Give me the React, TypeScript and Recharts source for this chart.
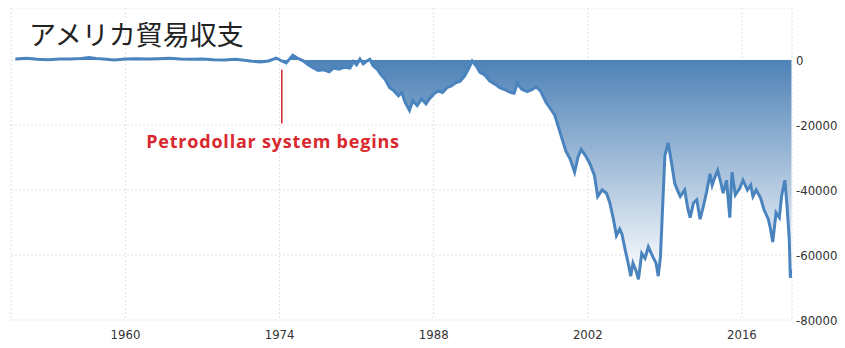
import {
  AreaChart,
  Area,
  XAxis,
  YAxis,
  CartesianGrid,
  ReferenceLine,
} from "recharts";

// US trade balance (USD million)
const years = [
  1950, 1951, 1952, 1953, 1954, 1955, 1956, 1956.7, 1957.3, 1958, 1959, 1960,
  1961, 1962, 1963, 1964, 1965, 1966, 1967, 1968, 1969, 1970, 1970.8, 1971.5,
  1972.3, 1973, 1973.7, 1974.2, 1974.6, 1975.2, 1975.6, 1976.1, 1976.6, 1977,
  1977.5, 1978, 1978.5, 1978.9, 1979.4, 1979.9, 1980.4, 1980.7, 1981, 1981.3,
  1981.6, 1981.9, 1982.2, 1982.5, 1982.9, 1983.2, 1983.6, 1984, 1984.4, 1984.8,
  1985.1, 1985.4, 1985.8, 1986.1, 1986.5, 1986.9, 1987.3, 1987.6, 1988, 1988.4,
  1988.8, 1989.2, 1989.6, 1990, 1990.4, 1990.8, 1991.2, 1991.5, 1991.9, 1992.2,
  1992.6, 1993.1, 1993.6, 1994, 1994.5, 1995, 1995.3, 1995.6, 1996, 1996.5,
  1997, 1997.3, 1997.7, 1998.2, 1998.6, 1999, 1999.5, 2000, 2000.4, 2000.8,
  2001.1, 2001.4, 2001.8, 2002.2, 2002.6, 2002.9, 2003.3, 2003.7, 2004, 2004.3,
  2004.6, 2004.9, 2005.1, 2005.4, 2005.7, 2005.9, 2006.1, 2006.4, 2006.6,
  2006.9, 2007.2, 2007.5, 2007.9, 2008.2, 2008.4, 2008.6, 2008.8, 2009, 2009.3,
  2009.6, 2009.9, 2010.2, 2010.4, 2010.8, 2011.1, 2011.3, 2011.6, 2011.9,
  2012.2, 2012.5, 2012.8, 2013.1, 2013.3, 2013.5, 2013.8, 2014.1, 2014.3,
  2014.6, 2014.9, 2015.1, 2015.4, 2015.8, 2016.1, 2016.5, 2016.8, 2017, 2017.3,
  2017.7, 2018, 2018.4, 2018.6, 2018.8, 2019.1, 2019.4, 2019.6, 2019.9, 2020.1,
  2020.3, 2020.4, 2020.5,
];

const balance = [
  300, 500, 200, 100, 300, 300, 500, 800, 500, 300, 0, 300,
  400, 300, 400, 500, 300, 200, 300, 100, 0, 200, -100, -400,
  -600, -300, 600, -300, -900, 1500, 600, -200, -1500, -2300,
  -3200, -3000, -3600, -2500, -2800, -2200, -2500, -500, -1500, 300,
  -1200, -400, 200, -1800, -3000, -4500, -6000, -8500, -9500, -11000,
  -10000, -13000, -15500, -12500, -14000, -12000, -13500, -12000, -10500, -9500,
  -10000, -8500, -8000, -7000, -6500, -5000, -2500, -300, -2000, -3800,
  -4500, -6500, -7500, -8500, -9200, -10000, -10200, -7200, -9000, -9700,
  -9000, -8200, -9500, -13000, -15000, -17000, -22500, -28000, -30500, -34500,
  -30000, -27500, -29500, -32000, -35500, -42000, -40000, -41000, -44000, -48500,
  -54000, -52000, -53500, -58500, -63000, -66500, -62500, -65000, -67500,
  -59500, -61000, -57500, -60500, -62500, -66500, -60500, -45000, -29500, -25500,
  -31500, -38000, -40500, -42000, -40000, -46000, -48500, -44000, -43000,
  -49000, -45000, -40500, -35000, -38500, -36500, -34000, -38000, -41000,
  -37000, -48500, -34500, -41500, -39500, -37000, -40000, -38500, -42000, -40000,
  -42500, -46000, -49000, -52000, -56000, -47000, -48500, -42000, -37000, -45000,
  -55000, -67000, -64500,
];

const xTicks = [1960, 1974, 1988, 2002, 2016];
const yTicks = [0, -20000, -40000, -60000, -80000];

const data = years.map((year, i) => ({ year, value: balance[i] }));

const tickStyle = {
  fontFamily: "'DejaVu Sans Condensed', sans-serif",
  fontStretch: "condensed",
  fontSize: 13,
  fill: "#333",
};

export default function App() {
  return (
    <div style={{ position: "relative", width: 829, height: 340 }}>
      <AreaChart
        width={829}
        height={340}
        data={data}
        margin={{ top: 0, right: 0, left: 3, bottom: 0 }}
      >
        <defs>
          <linearGradient id="tbFill" x1="0" y1="0" x2="0" y2="1">
            <stop offset="0%" stopColor="#4a7fb5" />
            <stop offset="100%" stopColor="#ffffff" />
          </linearGradient>
        </defs>
        <CartesianGrid stroke="#e2e2e2" strokeDasharray="2 2" />
        <XAxis
          dataKey="year"
          type="number"
          domain={[1949.6, 2020.55]}
          ticks={xTicks}
          allowDataOverflow
          axisLine={false}
          tickLine={false}
          tickMargin={4}
          height={28}
          tick={tickStyle}
        />
        <YAxis
          orientation="right"
          domain={[-80000, 16000]}
          ticks={yTicks}
          allowDataOverflow
          axisLine={false}
          tickLine={false}
          tickSize={2}
          tickMargin={2}
          width={45}
          tick={tickStyle}
        />
        <Area
          type="linear"
          dataKey="value"
          baseValue={0}
          stroke="#4a84bf"
          strokeWidth={3}
          fill="url(#tbFill)"
          fillOpacity={1}
          isAnimationActive={false}
        />
        <ReferenceLine
          segment={[
            { x: 1974.2, y: -3000 },
            { x: 1974.2, y: -19500 },
          ]}
          stroke="#d8232a"
          strokeWidth={1.5}
        />
      </AreaChart>
      <div
        style={{
          position: "absolute",
          left: 21,
          top: 12,
          fontFamily: "'Noto Sans CJK JP', sans-serif",
          fontSize: 27,
          lineHeight: "27px",
          color: "#222",
          whiteSpace: "nowrap",
        }}
      >
        アメリカ貿易収支
      </div>
      <div
        style={{
          position: "absolute",
          left: 265,
          top: 123,
          transform: "translateX(-50%)",
          fontFamily: "'Open Sans', sans-serif",
          fontWeight: 700,
          fontSize: 18,
          letterSpacing: 0.8,
          lineHeight: "20px",
          color: "#d8282e",
          whiteSpace: "nowrap",
        }}
      >
        Petrodollar system begins
      </div>
    </div>
  );
}
